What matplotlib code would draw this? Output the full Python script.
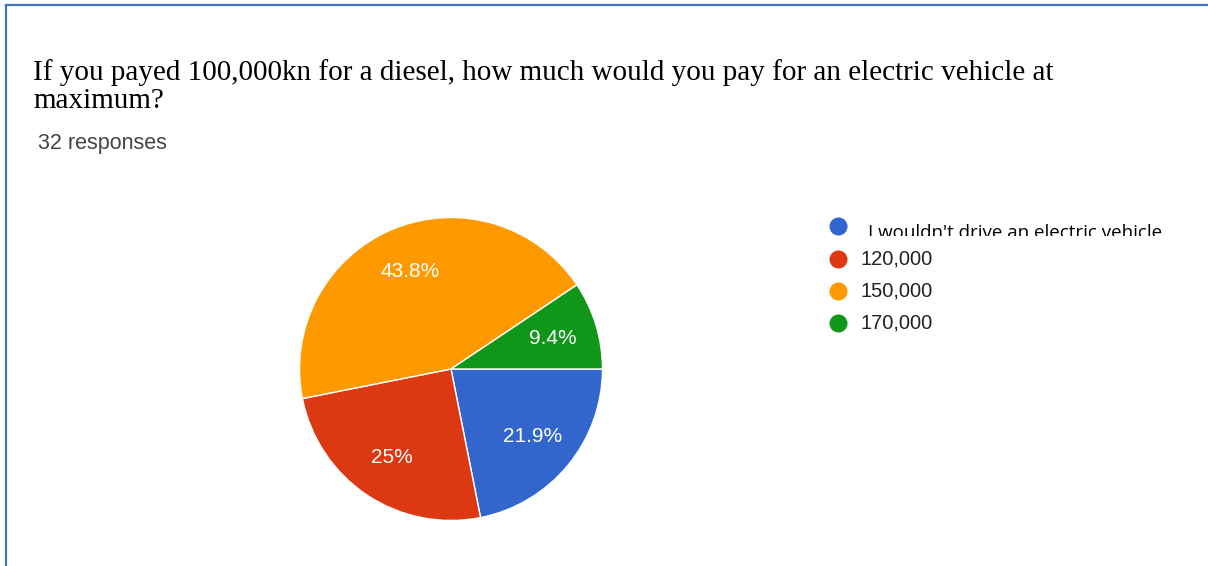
import matplotlib.pyplot as plt
from matplotlib.lines import Line2D
from matplotlib.transforms import Bbox, TransformedBbox

# Survey data (32 responses)
labels = ["I wouldn't drive an electric vehicle", "120,000", "150,000", "170,000"]
counts = [7, 8, 14, 3]
colors = ["#3366cc", "#dc3912", "#ff9900", "#109618"]

title = ("If you payed 100,000kn for a diesel, how much would you pay for an electric vehicle at\n"
         "maximum?")
subtitle = "32 responses"

W, H = 1208, 566
fig = plt.figure(figsize=(W / 100, H / 100), dpi=100)

# overlay axes in pixel coordinates for frame, titles and legend
ov = fig.add_axes([0, 0, 1, 1])
ov.set_xlim(0, W)
ov.set_ylim(H, 0)
ov.axis("off")

# blue frame (top and left edges)
ov.add_line(Line2D([6, W], [5, 5], color="#4472c4", lw=1.6))
ov.add_line(Line2D([6, 6], [5, H], color="#4472c4", lw=1.6))

ov.text(33, 108, title, fontsize=21, family="Liberation Serif", color="black",
        va="baseline", linespacing=1.1)
ov.text(38, 144, subtitle, fontsize=15.5, family="Liberation Sans", color="#444444", va="center")

# pie
cx, cy, r = 451, 369, 153
ax = fig.add_axes([(cx - r) / W, (H - cy - r) / H, 2 * r / W, 2 * r / H])


def fmt(p):
    s = f"{p:.1f}"
    if s.endswith(".0"):
        s = s[:-2]
    return s + "%"


wedges, texts, autotexts = ax.pie(
    counts, colors=colors, startangle=0, counterclock=False,
    autopct=fmt, pctdistance=0.7, radius=1,
    wedgeprops=dict(edgecolor="white", linewidth=1),
    textprops=dict(color="white", fontsize=15, family="Liberation Sans"))
ax.set_xlim(-1.01, 1.01)
ax.set_ylim(-1.01, 1.01)
ax.set_aspect("equal")

# legend
ys = [226, 259, 291, 323]
for i, (lab, col) in enumerate(zip(labels, colors)):
    ov.plot(838, ys[i], "o", color=col, markersize=13, markeredgewidth=0)
    if i == 0:
        t = ov.text(868, 237.5, lab, fontsize=13.5, family="Open Sans", color="black",
                    va="baseline")
        t.set_clip_box(TransformedBbox(Bbox.from_extents(860, 205, 1260, 235.5), ov.transData))
        t.set_clip_on(True)
    else:
        ov.text(860, ys[i], lab, fontsize=14.5, family="Liberation Sans", color="#222222",
                va="center")

fig.savefig("out.png", dpi=100)
